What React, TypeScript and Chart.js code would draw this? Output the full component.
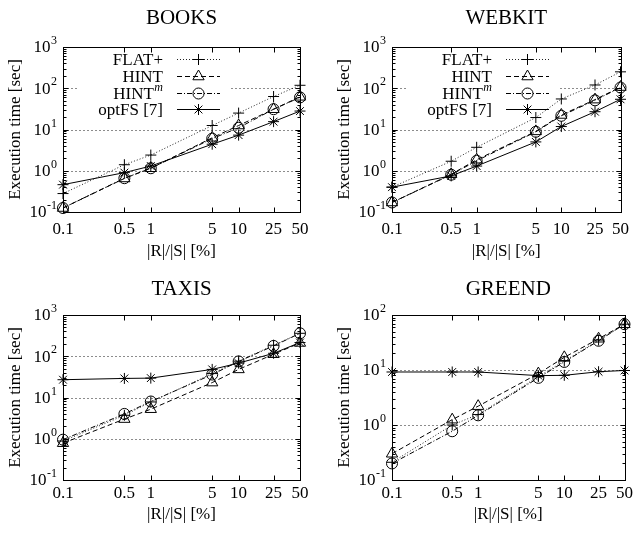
import React, { useEffect, useRef } from 'react';
import { Chart, registerables } from 'chart.js';
import { drawPoint } from 'chart.js/helpers';

Chart.register(...registerables);

const SERIF = "'Liberation Serif', 'Times New Roman', serif";

// ---- data ----
const xValues = [0.1, 0.5, 1, 5, 10, 25, 50];
const xTickLabels = ['0.1', '0.5', '1', '5', '10', '25', '50'];
const seriesLabels = ['FLAT+', 'HINT', 'HINT^m', 'optFS [7]'];
const xAxisTitle = '|R|/|S| [%]';
const yAxisTitle = 'Execution time [sec]';

const booksFlat = [0.28, 1.4, 2.4, 12.5, 25, 63, 118];
const booksHint = [0.125, 0.65, 1.15, 6.3, 12.5, 31, 62];
const booksHintM = [0.125, 0.66, 1.15, 6.0, 11, 31, 60];
const booksOptFS = [0.46, 0.9, 1.3, 4.4, 7.3, 15.5, 28];

const webkitFlat = [0.4, 1.7, 3.7, 19.5, 55, 120, 250];
const webkitHint = [0.17, 0.82, 1.85, 9, 22.5, 53, 107];
const webkitHintM = [0.17, 0.8, 1.75, 8.8, 21.5, 51, 104];
const webkitOptFS = [0.4, 0.75, 1.3, 5, 11.8, 27, 54];

const taxisFlat = [0.88, 3.7, 7.8, 38, 76, 185, 360];
const taxisHint = [0.78, 3.0, 5.2, 23, 48, 112, 210];
const taxisHintM = [0.95, 4.0, 8.0, 36, 75, 178, 360];
const taxisOptFS = [27, 29, 29.5, 48, 68, 118, 215];

const greendFlat = [0.21, 1.0, 1.55, 7.6, 14.5, 35, 68];
const greendHint = [0.3, 1.25, 2.2, 8.6, 17, 37, 68];
const greendHintM = [0.2, 0.77, 1.5, 7.2, 14, 34, 68];
const greendOptFS = [9.2, 9.2, 9.2, 7.9, 8.0, 9.3, 9.8];

// ---- styles ----
const seriesStyles = [
  { dash: [1, 2], point: 'cross', radius: 5.5, color: '#222' },
  { dash: [5, 3], point: 'triangle', radius: 6.5, color: '#000' },
  { dash: [5, 2, 1, 2], point: 'circle', radius: 5.5, color: '#000' },
  { dash: [], point: 'star', radius: 5.5, color: '#000' },
];

const framePlugin = {
  id: 'gnuFrame',
  beforeDatasetsDraw(chart: any, _args: any, opts: any) {
    const { ctx, chartArea: a, scales } = chart;
    const y = scales.y;
    ctx.save();
    ctx.strokeStyle = '#8c8c8c';
    ctx.lineWidth = 1;
    ctx.setLineDash([2, 2]);
    for (let e = -1; e <= 3; e++) {
      const v = Math.pow(10, e);
      if (v <= y.min * 1.0001 || v >= y.max * 0.9999) continue;
      const py = Math.round(y.getPixelForValue(v)) + 0.5;
      ctx.beginPath();
      ctx.moveTo(a.left, py);
      ctx.lineTo(a.right, py);
      ctx.stroke();
    }
    ctx.setLineDash([]);
    if (opts.legend) {
      ctx.fillStyle = '#fff';
      ctx.fillRect(a.left + 15, a.top + 3, 152, 68);
    }
    ctx.restore();
  },
  afterDatasetsDraw(chart: any, _args: any, opts: any) {
    const { ctx, chartArea: a, scales } = chart;
    const x = scales.x;
    const y = scales.y;
    const L = Math.round(a.left) + 0.5;
    const R = Math.round(a.right) + 0.5;
    const T = Math.round(a.top) + 0.5;
    const B = Math.round(a.bottom) + 0.5;
    ctx.save();
    ctx.strokeStyle = '#000';
    ctx.lineWidth = 1;
    ctx.setLineDash([]);
    // x ticks (inward, bottom & top)
    ctx.beginPath();
    for (const v of xValues) {
      const px = Math.round(x.getPixelForValue(v)) + 0.5;
      ctx.moveTo(px, B);
      ctx.lineTo(px, B - 5);
      ctx.moveTo(px, T);
      ctx.lineTo(px, T + 5);
    }
    // y ticks (major + minor, left & right)
    for (let e = -1; e <= 3; e++) {
      const d = Math.pow(10, e);
      for (let k = 1; k <= 9; k++) {
        const v = k * d;
        if (v < y.min * 0.9999 || v > y.max * 1.0001) continue;
        const py = Math.round(y.getPixelForValue(v)) + 0.5;
        const len = k === 1 ? 5 : 3;
        ctx.moveTo(L, py);
        ctx.lineTo(L + len, py);
        ctx.moveTo(R, py);
        ctx.lineTo(R - len, py);
      }
    }
    ctx.stroke();
    // frame
    ctx.strokeRect(L, T, R - L, B - T);

    // y tick labels with superscript exponents
    ctx.fillStyle = '#000';
    ctx.textBaseline = 'middle';
    for (let e = -1; e <= 3; e++) {
      const v = Math.pow(10, e);
      if (v < y.min * 0.9999 || v > y.max * 1.0001) continue;
      const py = y.getPixelForValue(v);
      const exp = String(e);
      ctx.font = `12px ${SERIF}`;
      const ew = ctx.measureText(exp).width;
      const ex = a.left - 6 - ew;
      ctx.textAlign = 'left';
      ctx.fillText(exp, ex, py - 6);
      ctx.font = `17px ${SERIF}`;
      ctx.textAlign = 'right';
      ctx.fillText('10', ex - 0.5, py + 1);
    }

    // legend
    if (opts.legend) {
      const textRight = a.left + 100;
      const ls = a.left + 114;
      const le = a.left + 157;
      const mx = a.left + 135.5;
      chart.data.datasets.forEach((ds: any, i: number) => {
        const ry = Math.round(a.top + 12 + 16.8 * i) + 0.5;
        const label: string = ds.label;
        ctx.fillStyle = '#000';
        ctx.textBaseline = 'middle';
        if (label.includes('^')) {
          const [main, sup] = label.split('^');
          ctx.font = `italic 12px ${SERIF}`;
          const sw = ctx.measureText(sup).width;
          ctx.textAlign = 'left';
          ctx.fillText(sup, textRight - sw, ry - 6);
          ctx.font = `17px ${SERIF}`;
          ctx.textAlign = 'right';
          ctx.fillText(main, textRight - sw - 0.5, ry + 1);
        } else {
          ctx.font = `17px ${SERIF}`;
          ctx.textAlign = 'right';
          ctx.fillText(label, textRight, ry + 1);
        }
        ctx.strokeStyle = ds.borderColor;
        ctx.lineWidth = 1;
        ctx.setLineDash(ds.borderDash || []);
        ctx.beginPath();
        ctx.moveTo(ls, ry);
        ctx.lineTo(le, ry);
        ctx.stroke();
        ctx.setLineDash([]);
        ctx.strokeStyle = '#000';
        ctx.fillStyle = 'rgba(0,0,0,0)';
        drawPoint(ctx, { pointStyle: ds.pointStyle, radius: ds.pointRadius, borderWidth: 1, rotation: 0 } as any, mx, ry);
      });
    }
    ctx.restore();
  },
};

type PanelCfg = {
  title: string;
  series: number[][];
  yMax: number;
  legend: boolean;
  left: number;
  top: number;
  width: number;
  height: number;
  padRight: number;
  titlePadTop: number;
  titlePadBottom: number;
  xScaleH: number;
  xTickPad: number;
  xTitlePadBottom: number;
};

function Panel({ cfg }: { cfg: PanelCfg }) {
  const ref = useRef<HTMLCanvasElement>(null);
  useEffect(() => {
    const chart = new Chart(ref.current as HTMLCanvasElement, {
      type: 'line',
      data: {
        datasets: seriesStyles.map((s, i) => ({
          label: seriesLabels[i],
          data: xValues.map((xv, j) => ({ x: xv, y: cfg.series[i][j] })),
          borderColor: s.color,
          borderWidth: 1,
          borderDash: s.dash,
          pointStyle: s.point as any,
          pointRadius: s.radius,
          pointBorderColor: '#000',
          pointBackgroundColor: 'rgba(0,0,0,0)',
          pointBorderWidth: 1,
          fill: false,
          tension: 0,
          clip: false as any,
        })),
      },
      options: {
        responsive: false,
        animation: false,
        events: [],
        layout: { padding: { left: 0, right: cfg.padRight, top: 0, bottom: 0 } },
        plugins: {
          legend: { display: false },
          tooltip: { enabled: false },
          title: {
            display: true,
            fullSize: false,
            text: cfg.title,
            color: '#000',
            font: { family: SERIF, size: 21, weight: 'normal' },
            padding: { top: cfg.titlePadTop, bottom: cfg.titlePadBottom },
          },
          gnuFrame: { legend: cfg.legend },
        } as any,
        scales: {
          x: {
            type: 'logarithmic',
            min: 0.1,
            max: 50,
            bounds: 'data',
            grid: { display: false, drawTicks: false },
            border: { display: false },
            ticks: {
              autoSkip: false,
              maxRotation: 0,
              padding: cfg.xTickPad,
              color: '#000',
              font: { family: SERIF, size: 17 },
              callback: (_v: any, i: number) => xTickLabels[i] ?? '',
            },
            afterBuildTicks: (s: any) => {
              s.ticks = xValues.map((v) => ({ value: v }));
            },
            afterFit: (s: any) => {
              s.height = cfg.xScaleH;
            },
            title: {
              display: true,
              text: xAxisTitle,
              color: '#000',
              font: { family: SERIF, size: 17 },
              padding: { top: 0, bottom: cfg.xTitlePadBottom },
            },
          } as any,
          y: {
            type: 'logarithmic',
            min: 0.1,
            max: cfg.yMax,
            grid: { display: false, drawTicks: false },
            border: { display: false },
            ticks: { display: false },
            afterFit: (s: any) => {
              s.width = 63;
            },
            title: {
              display: true,
              text: yAxisTitle,
              color: '#000',
              font: { family: SERIF, size: 17 },
              padding: { top: 5, bottom: 0 },
            },
          } as any,
        },
      },
      plugins: [framePlugin as any],
    });
    return () => chart.destroy();
  }, []);
  return (
    <canvas
      ref={ref}
      width={cfg.width}
      height={cfg.height}
      style={{ position: 'absolute', left: cfg.left, top: cfg.top, width: cfg.width, height: cfg.height }}
    />
  );
}

const topRow = { top: 0, height: 266, titlePadTop: 6, titlePadBottom: 15.8, xScaleH: 54, xTickPad: 7, xTitlePadBottom: 4 };
const bottomRow = { top: 266, height: 267, titlePadTop: 10.4, titlePadBottom: 13.4, xScaleH: 53, xTickPad: 3, xTitlePadBottom: 7.8 };

const panels: PanelCfg[] = [
  { title: 'BOOKS', series: [booksFlat, booksHint, booksHintM, booksOptFS], yMax: 1000, legend: true, left: 0, width: 318, padRight: 18, ...topRow },
  { title: 'WEBKIT', series: [webkitFlat, webkitHint, webkitHintM, webkitOptFS], yMax: 1000, legend: true, left: 329, width: 307, padRight: 9, ...topRow },
  { title: 'TAXIS', series: [taxisFlat, taxisHint, taxisHintM, taxisOptFS], yMax: 1000, legend: false, left: 0, width: 318, padRight: 18, ...bottomRow },
  { title: 'GREEND', series: [greendFlat, greendHint, greendHintM, greendOptFS], yMax: 100, legend: false, left: 329, width: 307, padRight: 9, ...bottomRow },
];

export default function App() {
  return (
    <div style={{ position: 'fixed', left: 0, top: 0, width: 636, height: 533, background: '#fff', overflow: 'hidden' }}>
      {panels.map((p) => (
        <Panel key={p.title} cfg={p} />
      ))}
    </div>
  );
}
